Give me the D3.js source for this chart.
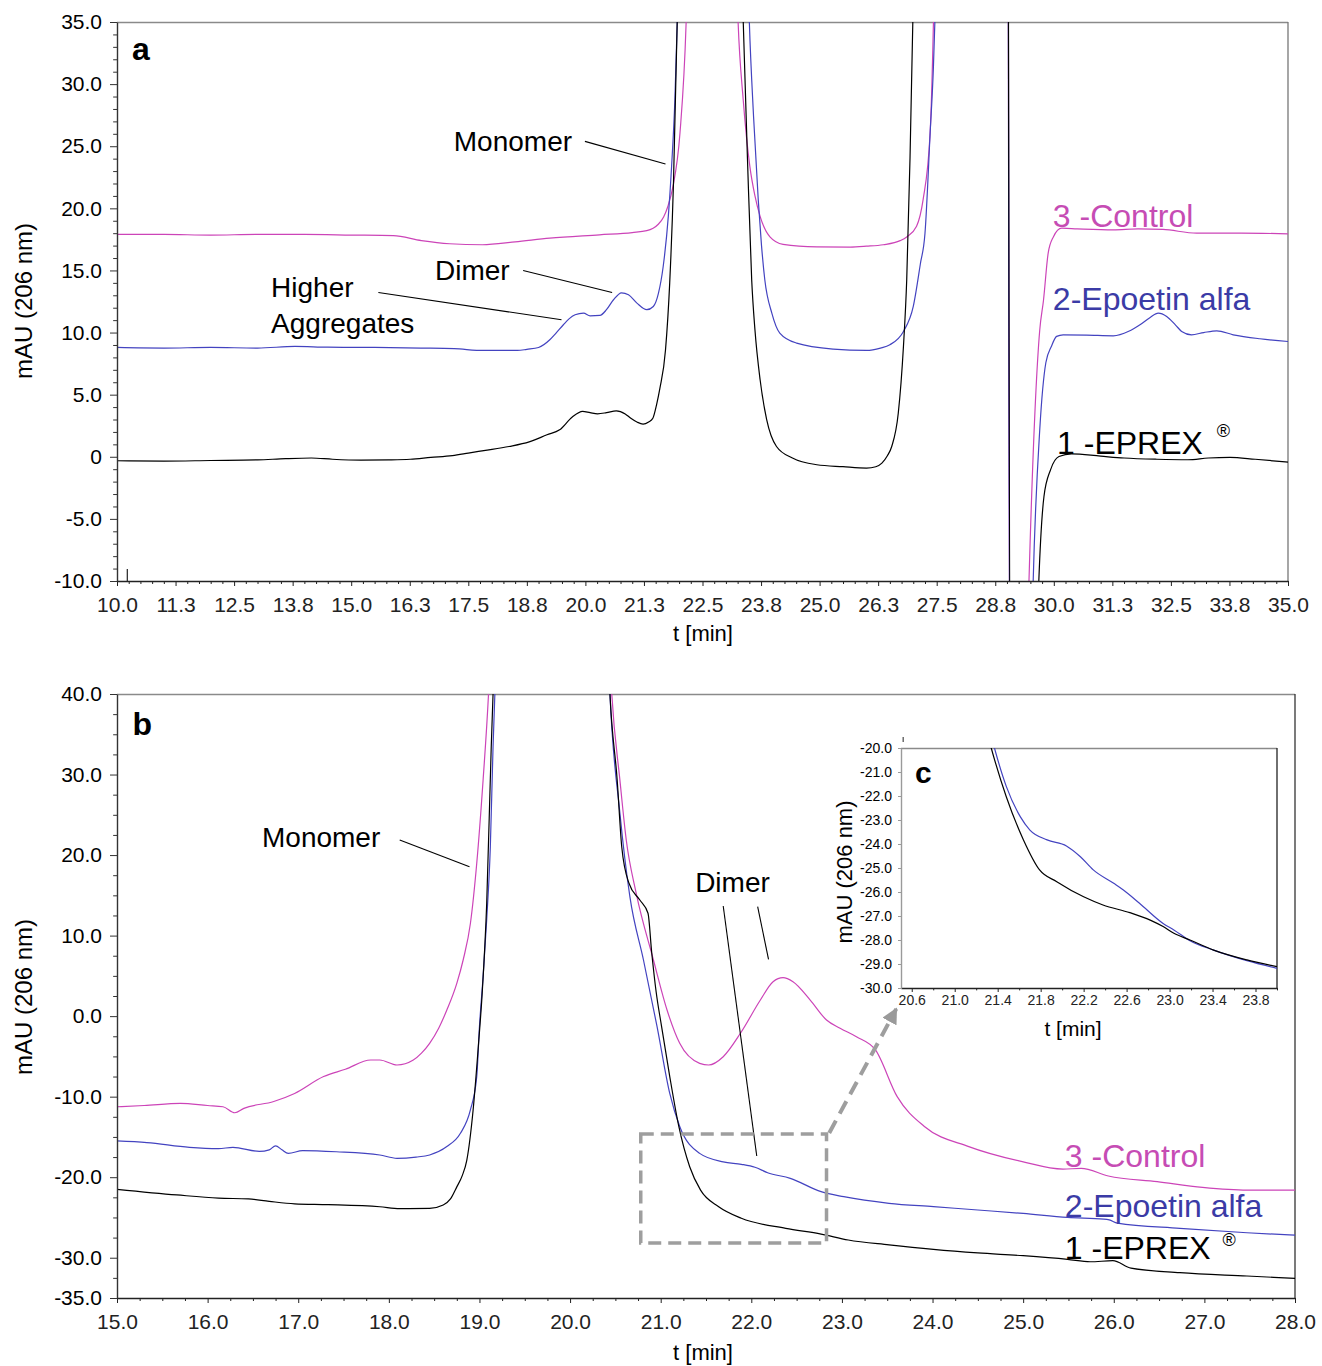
<!DOCTYPE html>
<html lang="en">
<head>
<meta charset="UTF-8">
<title>SEC chromatograms - EPREX / Epoetin alfa / Control</title>
<script src="https://d3js.org/d3.v7.min.js"></script>
<style>
  body { margin: 0; background: #fff; }
  svg { display: block; font-family: "Liberation Sans", Arial, sans-serif; }
</style>
</head>
<body>
<script>

// ---------------- DATA (t [min], mAU) ----------------
// panel a : 10 - 35 min
const aControl = [[10.0,17.9],[11,17.9],[12,17.85],[13,17.9],[14,17.9],[15,17.85],[15.9,17.8],[16.5,17.4],[17.1,17.15],[17.8,17.07],
  [18.5,17.3],[19.24,17.6],[20.3,17.87],[21.0,18.05],[21.31,18.2],[21.55,18.7],[21.67,19.3],[21.76,20.15],[21.87,21.76],[22.02,26.1],
  [22.15,34.9],[22.25,50],[22.7,200],[23.15,50],[23.26,35],[23.37,28.7],[23.51,23.4],[23.62,21.0],[23.73,19.35],[23.94,17.7],
  [24.22,17.1],[24.94,16.9],[25.65,16.88],[26.0,16.95],[26.36,17.07],[26.72,17.4],[26.86,17.7],[27.07,18.55],[27.21,20.7],[27.36,26.1],
  [27.43,34.9],[27.5,50],[28.2,200],[28.95,200],[29.02,60],[29.06,-20],[29.4,-20],[29.47,-10],[29.7,10.2],[29.78,12.6],
  [29.88,16.4],[29.99,17.7],[30.17,18.4],[30.5,18.35],[31.27,18.27],[31.8,18.35],[32.33,18.3],[33.05,18.0],[34,18.0],[35.0,17.95]];

const aEpoetin = [[10.0,8.8],[11,8.75],[12,8.8],[13,8.75],[13.8,8.88],[14.5,8.82],[15.5,8.8],[16.49,8.75],[17.2,8.7],[17.83,8.56],
  [18.55,8.56],[18.75,8.65],[19.0,8.8],[19.24,9.42],[19.36,9.9],[19.53,10.63],[19.65,11.1],[19.78,11.43],[19.96,11.57],[20.1,11.35],
  [20.31,11.38],[20.45,11.84],[20.6,12.64],[20.77,13.2],[20.92,13.04],[21.1,12.37],[21.31,11.84],[21.45,12.1],[21.56,13.17],[21.66,15.3],
  [21.77,19.35],[21.84,23.37],[21.91,28.7],[21.96,34.9],[22.05,50],[22.8,200],[23.4,50],[23.5,35],[23.59,27.4],[23.69,20.7],
  [23.76,17.0],[23.83,14.25],[23.98,11.57],[24.15,9.96],[24.51,9.15],[25.29,8.67],[26.0,8.56],[26.3,8.75],[26.5,9.02],[26.79,10.09],
  [27.0,12.1],[27.15,15.5],[27.25,18.0],[27.36,26.06],[27.43,31.4],[27.46,34.9],[27.55,50],[28.2,200],[28.95,200],
  [29.02,60],[29.06,-20],[29.5,-20],[29.56,-10],[29.7,2.17],[29.83,7.57],[29.95,8.9],[30.06,9.69],[30.2,9.82],[30.7,9.8],
  [31.27,9.74],[31.6,10.1],[31.84,10.63],[32.05,11.2],[32.23,11.57],[32.41,11.3],[32.6,10.6],[32.73,10.09],[32.94,9.82],[33.2,10.0],
  [33.48,10.14],[33.83,9.82],[34.4,9.5],[35.0,9.28]];

const aEprex = [[10.0,-0.32],[11.0,-0.35],[12.0,-0.3],[13.0,-0.25],[13.6,-0.15],[14.15,-0.1],[14.6,-0.2],[15.2,-0.27],[15.8,-0.25],[16.26,-0.2],
  [16.7,-0.05],[17.16,0.1],[17.5,0.3],[17.83,0.5],[18.37,0.83],[18.8,1.2],[19.18,1.77],[19.45,2.17],[19.72,3.2],[19.94,3.65],
  [20.1,3.55],[20.26,3.46],[20.45,3.55],[20.66,3.7],[20.85,3.45],[20.97,3.1],[21.1,2.8],[21.23,2.63],[21.35,2.8],[21.44,3.1],
  [21.52,4.2],[21.59,5.5],[21.71,8.6],[21.8,14],[21.88,22],[21.96,35],[22.05,60],[22.7,200],[23.2,60],[23.37,35],
  [23.46,24],[23.55,14.25],[23.62,10.2],[23.73,6.2],[23.87,3.0],[24.08,0.83],[24.42,-0.1],[24.94,-0.64],[25.5,-0.8],[26.0,-0.91],
  [26.2,-0.8],[26.33,-0.51],[26.45,0.1],[26.54,0.83],[26.68,3.52],[26.79,8.88],[26.86,14.25],[26.93,24],[26.99,35],[27.1,60],[28.0,200],
  [28.95,200],[29.02,60],[29.07,-20],[29.6,-20],[29.68,-10],[29.79,-3.2],[29.93,-1.05],[30.11,0.02],[30.38,0.24],[31.0,0.05],
  [31.5,-0.1],[32.2,-0.2],[32.86,-0.24],[33.3,-0.1],[33.76,-0.05],[34.3,-0.2],[35.0,-0.43]];

// panel b : 15 - 28 min
const bControl = [[15.0,-11.25],[15.3,-11.1],[15.7,-10.83],[16.0,-11.1],[16.17,-11.25],[16.3,-12.0],[16.4,-11.45],[16.73,-10.6],[16.96,-9.6],[17.28,-7.5],
  [17.52,-6.6],[17.8,-5.45],[17.9,-5.45],[18.09,-6.07],[18.27,-5.45],[18.36,-4.6],[18.45,-3.38],[18.55,-1.5],[18.64,0.76],[18.75,4.07],
  [18.82,6.97],[18.9,11.5],[18.97,18.98],[19.04,29.3],[19.1,40],[19.2,70],[19.8,200],[20.35,70],[20.46,40],[20.55,29.3],
  [20.62,21.87],[20.73,15.25],[20.92,6.97],[21.07,0.76],[21.21,-3.38],[21.43,-5.86],[21.53,-6.07],[21.69,-5.04],[21.88,-2.13],[22.1,2.0],
  [22.24,4.27],[22.35,4.77],[22.46,4.27],[22.65,2.0],[22.83,-0.48],[22.98,-1.5],[23.16,-2.56],[23.37,-4.2],[23.61,-10.0],[23.91,-13.7],
  [24.4,-16.2],[24.99,-18.07],[25.44,-19.0],[25.64,-18.9],[25.94,-19.85],[26.48,-20.56],[26.98,-21.26],[27.47,-21.6],[28.0,-21.6]];

const bEpoetin = [[15.0,-15.5],[15.33,-15.7],[15.8,-16.3],[16.12,-16.45],[16.28,-16.3],[16.57,-16.8],[16.68,-16.6],[16.75,-16.1],[16.82,-16.6],[16.89,-17.05],
  [17.05,-16.7],[17.42,-16.84],[17.9,-17.24],[18.09,-17.65],[18.3,-17.5],[18.45,-17.24],[18.64,-16.2],[18.79,-14.55],[18.9,-11.65],[18.97,-7.5],
  [19.0,-1.3],[19.04,4.9],[19.08,12.0],[19.12,21.03],[19.15,33.45],[19.17,40],[19.25,70],[19.8,200],[20.35,70],[20.44,40],
  [20.55,25.2],[20.66,14.83],[20.81,6.97],[20.96,-1.3],[21.1,-9.6],[21.21,-13.7],[21.43,-17.04],[21.69,-18.1],[21.89,-18.4],[22.04,-18.77],
  [22.18,-19.44],[22.43,-20.14],[22.77,-21.8],[23.02,-22.42],[23.52,-23.24],[24.01,-23.66],[24.5,-24.07],[25.0,-24.5],[25.49,-25.0],[25.89,-25.2],
  [25.95,-25.3],[26.04,-25.7],[26.73,-26.35],[27.47,-26.9],[28.0,-27.2]];

const bEprex = [[15.0,-21.5],[15.66,-22.2],[16.12,-22.6],[16.45,-22.7],[16.68,-23.0],[16.96,-23.3],[17.33,-23.4],[17.9,-23.67],[18.12,-23.9],[18.45,-23.87],
  [18.6,-23.45],[18.68,-22.7],[18.75,-21.2],[18.81,-19.8],[18.86,-17.9],[18.93,-11.65],[18.99,-3.4],[19.03,2.83],[19.08,14.0],[19.13,33.45],
  [19.15,40],[19.25,70],[19.8,200],[20.35,70],[20.44,40],[20.52,29.3],[20.57,21.03],[20.65,16.5],[20.77,14.42],[20.86,12.77],
  [20.9,8.0],[20.95,3.0],[21.01,-1.3],[21.1,-7.5],[21.2,-13.7],[21.32,-18.7],[21.44,-21.6],[21.64,-23.67],[21.89,-25.1],[22.38,-26.35],
  [22.77,-27.06],[23.07,-27.8],[23.52,-28.4],[24.01,-28.96],[24.5,-29.4],[25.0,-29.75],[25.49,-30.2],[25.74,-30.5],[25.99,-30.37],[26.19,-31.3],
  [26.73,-31.86],[27.47,-32.27],[28.0,-32.56]];

// panel c (inset) : 20.5 - 24 min
const cEpoetin = [[21.25,-17.8],[21.37,-20.0],[21.48,-21.6],[21.61,-22.86],[21.7,-23.42],[21.86,-23.83],[22.04,-24.08],[22.17,-24.53],[22.29,-25.08],[22.48,-25.64],
  [22.57,-25.92],[22.72,-26.47],[22.94,-27.31],[23.04,-27.58],[23.19,-28.03],[23.41,-28.42],[23.72,-28.86],[24.0,-29.18]];
const cEprex = [[21.2,-17.5],[21.34,-20.0],[21.48,-22.03],[21.64,-23.83],[21.79,-25.08],[21.95,-25.57],[22.2,-26.2],[22.38,-26.54],[22.63,-26.86],[22.82,-27.17],
  [22.94,-27.44],[23.04,-27.72],[23.19,-28.0],[23.41,-28.42],[23.72,-28.83],[24.0,-29.11]];

// tick labels
const aXLabels = ["10.0","11.3","12.5","13.8","15.0","16.3","17.5","18.8","20.0","21.3","22.5","23.8","25.0","26.3","27.5","28.8","30.0","31.3","32.5","33.8","35.0"];
const aYLabels = ["-10.0","-5.0","0","5.0","10.0","15.0","20.0","25.0","30.0","35.0"];
const bXLabels = ["15.0","16.0","17.0","18.0","19.0","20.0","21.0","22.0","23.0","24.0","25.0","26.0","27.0","28.0"];
const bYLabels = ["-35.0","-30.0","-20.0","-10.0","0.0","10.0","20.0","30.0","40.0"];
const cXLabels = ["20.6","21.0","21.4","21.8","22.2","22.6","23.0","23.4","23.8"];
const cYLabels = ["-30.0","-29.0","-28.0","-27.0","-26.0","-25.0","-24.0","-23.0","-22.0","-21.0","-20.0"];

const seriesNames = ["1 -EPREX", "2-Epoetin alfa", "3 -Control"];

// ---------------- STYLE ----------------
const PINK = "#cc44b8", BLUE = "#4343c0", BLACK = "#000";
const PINK_TXT = "#c64cb4", BLUE_TXT = "#3b3ba6";

const svg = d3.select("body").append("svg").attr("width", 1322).attr("height", 1366);

const defs = svg.append("defs");
defs.append("marker").attr("id", "arrow")
  .attr("viewBox", "0 0 10 10").attr("refX", 9).attr("refY", 5)
  .attr("markerWidth", 16).attr("markerHeight", 16)
  .attr("markerUnits", "userSpaceOnUse").attr("orient", "auto")
  .append("path").attr("d", "M0,0 L10,5 L0,10 z").attr("fill", "#9a9a9a");

const near = (v, step, start) => Math.abs((v - start) / step - Math.round((v - start) / step)) < 1e-6;

// DRAW ONE PANEL (frame, curves, axes)
function panel(p) {
  const x = d3.scaleLinear().domain(p.xDomain).range([p.left, p.right]);
  const y = d3.scaleLinear().domain(p.yDomain).range([p.bottom, p.top]);
  const g = svg.append("g");

  g.append("rect").attr("x", p.left).attr("y", p.top)
    .attr("width", p.right - p.left).attr("height", p.bottom - p.top).attr("fill", "#fff");

  defs.append("clipPath").attr("id", "clip-" + p.name).append("rect")
    .attr("x", p.left).attr("y", p.top).attr("width", p.right - p.left).attr("height", p.bottom - p.top);

  // top and right frame
  g.append("line").attr("x1", p.left).attr("x2", p.right).attr("y1", p.top + 0.5).attr("y2", p.top + 0.5)
    .attr("stroke", "#8a8a8a").attr("stroke-width", 1.3);
  g.append("line").attr("x1", p.right).attr("x2", p.right).attr("y1", p.top).attr("y2", p.bottom)
    .attr("stroke", p.rightColor).attr("stroke-width", 1.3);

  const line = d3.line().x(d => x(d[0])).y(d => y(d[1])).curve(d3.curveMonotoneX);
  p.series.forEach(s => {
    g.append("path").datum(s.data)
      .attr("clip-path", "url(#clip-" + p.name + ")")
      .attr("fill", "none").attr("stroke", s.color).attr("stroke-width", 1.2)
      .attr("stroke-linejoin", "round").attr("d", line);
  });

  // X AXIS
  const xa = g.append("g").attr("transform", `translate(0,${p.bottom})`)
    .call(d3.axisBottom(x).tickValues(p.xMajor).tickFormat((d, i) => p.xLabels[i])
      .tickSize(p.tick).tickPadding(p.padX).tickSizeOuter(0));
  xa.attr("font-size", p.font).attr("font-family", null).attr("color", "#222");
  xa.select(".domain").attr("stroke-width", 1.4);
  g.append("g").attr("transform", `translate(0,${p.bottom})`)
    .call(d3.axisBottom(x).tickValues(p.xMinor).tickFormat("").tickSize(p.tick * 0.6).tickSizeOuter(0))
    .attr("color", "#222").select(".domain").remove();

  // Y AXIS
  const ya = g.append("g").attr("transform", `translate(${p.left},0)`)
    .call(d3.axisLeft(y).tickValues(p.yMajor).tickFormat((d, i) => p.yLabels[i])
      .tickSize(p.tickY).tickPadding(p.padY).tickSizeOuter(0));
  ya.attr("font-size", p.font).attr("font-family", null).attr("color", p.yColor);
  ya.select(".domain").attr("stroke-width", 1.4);
  ya.selectAll("text").attr("fill", "#000");
  if (p.yMinor.length) {
    g.append("g").attr("transform", `translate(${p.left},0)`)
      .call(d3.axisLeft(y).tickValues(p.yMinor).tickFormat("").tickSize(p.tickY * 0.55).tickSizeOuter(0))
      .attr("color", p.yColor).select(".domain").remove();
  }

  // axis titles
  g.append("text").attr("x", p.xTitle[0]).attr("y", p.xTitle[1])
    .attr("text-anchor", "middle").attr("font-size", p.titleFont).text("t [min]");
  g.append("text").attr("transform", `translate(${p.yTitle[0]},${p.yTitle[1]}) rotate(-90)`)
    .attr("text-anchor", "middle").attr("font-size", p.yTitleFont).text("mAU (206 nm)");

  // panel letter
  g.append("text").attr("x", x(p.tag[0])).attr("y", y(p.tag[1]))
    .attr("font-size", p.tagFont).attr("font-weight", "bold").text(p.name);

  return { x, y, g };
}

function txt(g, x, y, s, size, color) {
  return g.append("text").attr("x", x).attr("y", y).attr("font-size", size).attr("fill", color || "#000").text(s);
}
function lead(g, x, y, seg) {
  g.append("line").attr("x1", x(seg[0])).attr("y1", y(seg[1])).attr("x2", x(seg[2])).attr("y2", y(seg[3]))
    .attr("stroke", "#000").attr("stroke-width", 1.1);
}

// ---------------- PANEL A ----------------
const A = panel({
  name: "a", left: 117, right: 1288, top: 22, bottom: 581,
  xDomain: [10, 35], yDomain: [-10, 35], rightColor: "#777", yColor: "#333",
  xMajor: d3.range(10, 35.001, 1.25), xLabels: aXLabels,
  xMinor: d3.range(10, 35.001, 0.25).filter(v => !near(v, 1.25, 10)),
  yMajor: aYLabels.map(Number), yLabels: aYLabels,
  yMinor: d3.range(-10, 35.001, 1).filter(v => !near(v, 5, 0)),
  tick: 5, padX: 11, tickY: 7, padY: 8, font: 21, titleFont: 22, yTitleFont: 24, tagFont: 32,
  xTitle: [703, 641], yTitle: [32, 301], tag: [10.32, 31.96],
  series: [{ data: aControl, color: PINK }, { data: aEpoetin, color: BLUE }, { data: aEprex, color: BLACK }]
});
// injection mark
A.g.append("line").attr("x1", A.x(10.22)).attr("x2", A.x(10.22)).attr("y1", 569).attr("y2", 581)
  .attr("stroke", "#222").attr("stroke-width", 1.2);

txt(A.g, A.x(17.19), A.y(24.64), "Monomer", 28);
txt(A.g, A.x(16.79), A.y(14.25), "Dimer", 28);
txt(A.g, A.x(13.29), A.y(12.88), "Higher", 28);
txt(A.g, A.x(13.29), A.y(9.98), "Aggregates", 28);
[[19.99, 25.39, 21.71, 23.57], [18.67, 15.0, 20.57, 13.23], [15.58, 13.23, 19.49, 11.03]].forEach(s => lead(A.g, A.x, A.y, s));
txt(A.g, A.x(29.98), A.y(18.52), seriesNames[2], 32, PINK_TXT);
txt(A.g, A.x(29.98), A.y(11.84), seriesNames[1], 32, BLUE_TXT);
txt(A.g, A.x(30.07), A.y(0.24), seriesNames[0], 32);
txt(A.g, A.x(33.48), A.y(1.61), "®", 18);

// ---------------- PANEL B ----------------
const B = panel({
  name: "b", left: 117, right: 1295, top: 694, bottom: 1298,
  xDomain: [15, 28], yDomain: [-35, 40], rightColor: "#333", yColor: "#333",
  xMajor: bXLabels.map(Number), xLabels: bXLabels,
  xMinor: d3.range(15, 28.001, 0.25).filter(v => !near(v, 1, 15)),
  yMajor: bYLabels.map(Number), yLabels: bYLabels,
  yMinor: d3.range(-35, 40.001, 2.5).filter(v => !near(v, 10, 0)),
  tick: 5, padX: 11, tickY: 7, padY: 8, font: 21, titleFont: 22, yTitleFont: 24, tagFont: 32,
  xTitle: [703, 1360], yTitle: [32, 997], tag: [15.17, 34.91],
  series: [{ data: bControl, color: PINK }, { data: bEpoetin, color: BLUE }, { data: bEprex, color: BLACK }]
});

txt(B.g, B.x(16.6), B.y(21.0), "Monomer", 28);
txt(B.g, B.x(21.38), B.y(15.41), "Dimer", 28);
[[18.12, 21.87, 18.89, 18.55], [21.69, 13.67, 22.06, -17.37], [22.07, 13.59, 22.19, 7.06]].forEach(s => lead(B.g, B.x, B.y, s));
txt(B.g, B.x(25.46), B.y(-18.74), seriesNames[2], 32, PINK_TXT);
txt(B.g, B.x(25.46), B.y(-24.95), seriesNames[1], 32, BLUE_TXT);
txt(B.g, B.x(25.46), B.y(-30.16), seriesNames[0], 32);
txt(B.g, B.x(27.2), B.y(-28.55), "®", 18);

// zoom box + arrow
B.g.append("rect")
  .attr("x", B.x(20.78)).attr("y", B.y(-14.64))
  .attr("width", B.x(22.83) - B.x(20.78)).attr("height", B.y(-28.17) - B.y(-14.64))
  .attr("fill", "none").attr("stroke", "#9e9e9e").attr("stroke-width", 3.5).attr("stroke-dasharray", "13,7");
B.g.append("line")
  .attr("x1", B.x(22.86)).attr("y1", B.y(-14.51)).attr("x2", B.x(23.6)).attr("y2", B.y(0.9))
  .attr("stroke", "#9e9e9e").attr("stroke-width", 4).attr("stroke-dasharray", "14,8")
  .attr("marker-end", "url(#arrow)");

// ---------------- PANEL C (inset) ----------------
const C = panel({
  name: "c", left: 901, right: 1277, top: 748, bottom: 988,
  xDomain: [20.5, 24], yDomain: [-30, -20], rightColor: "#222", yColor: "#9a9a9a",
  xMajor: cXLabels.map(Number), xLabels: cXLabels,
  xMinor: d3.range(20.8, 24.001, 0.4),
  yMajor: cYLabels.map(Number), yLabels: cYLabels,
  yMinor: [],
  tick: 4, padX: 3, tickY: 3, padY: 6, font: 14, titleFont: 21, yTitleFont: 22, tagFont: 30,
  xTitle: [1073, 1036], yTitle: [852, 872], tag: [20.63, -21.46],
  series: [{ data: cEpoetin, color: BLUE }, { data: cEprex, color: BLACK }]
});
C.g.append("line").attr("x1", C.x(20.52)).attr("x2", C.x(20.52)).attr("y1", 737).attr("y2", 742)
  .attr("stroke", "#222").attr("stroke-width", 1);

</script>
</body>
</html>
